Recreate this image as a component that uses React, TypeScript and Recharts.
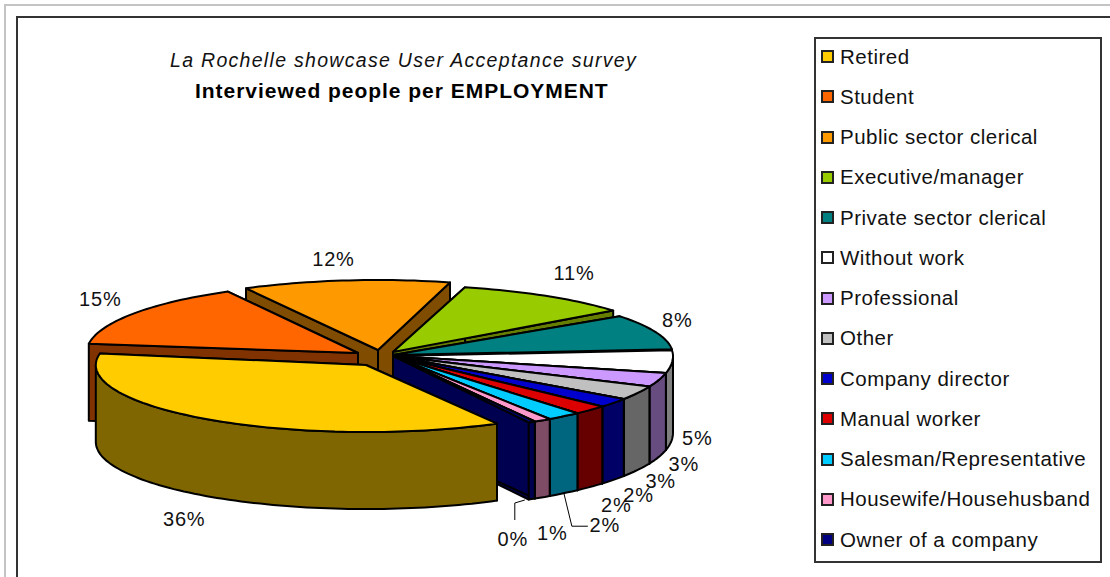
import React from "react";
import { PieChart, Pie, Legend } from "recharts";

// Survey results, in the order the slices run clockwise round the pie.
const categories = [
  "Retired",
  "Student",
  "Public sector clerical",
  "Executive/manager",
  "Private sector clerical",
  "Without work",
  "Professional",
  "Other",
  "Company director",
  "Manual worker",
  "Salesman/Representative",
  "Housewife/Househusband",
  "Owner of a company",
];
const shares = [36, 15, 12, 11, 8, 5, 3, 3, 2, 2, 2, 1, 0.4];

const topColors = [
  "#FFCC00", "#FF6600", "#FF9900", "#99CC00", "#008080", "#FFFFFF", "#CC99FF",
  "#C0C0C0", "#0000CC", "#DD0000", "#00CCFF", "#FF99CC", "#000080",
];
const wallColors = [
  "#7F6600", "#803300", "#7F4C00", "#667F00", "#006666", "#7F7F7F", "#664C7F",
  "#666666", "#000066", "#660000", "#00667F", "#7F4C66", "#000050",
];

// Far slices are painted first so the nearer ones overlap them.
const paintOrder = [2, 3, 4, 5, 6, 7, 8, 9, 10, 11, 12, 1, 0];

type SliceForm = {
  dx: number;
  dy: number;
  wide?: number;
  near?: number;
  far?: number;
  from?: number;
  to?: number;
};

// Per-slice displacement from the pie centre, plus the small perspective
// corrections to ellipse size and edge angle (degrees).
const explode: Record<number, SliceForm> = {
  0: { dx: -27, dy: 9, wide: 0.965, near: 67 },
  1: { dx: -35, dy: -3, wide: 0.97, far: 70, from: -2.5, to: -2.5 },
  2: { dx: -15, dy: -6, far: 70, from: -2, to: -2 },
  3: { dx: 0, dy: -4, far: 67, from: -2, to: -4.5 },
  4: { dx: 0, dy: -1, from: -2.3 },
};

// Label displacement from the slice's rim midpoint.
const labelShift = [
  [-46, 101], [-69, -17], [-37, -31], [14, -30], [20, -14], [25, 77], [25, 84],
  [23, 88], [25, 92], [26, 95], [41, 109], [10, 113], [-19, 117],
];
// Leader lines, relative to the rim midpoint.
const leaders: Record<number, number[][]> = {
  10: [[0, 77], [8, 110], [24, 110]],
  12: [[-7, 78], [-17, 81], [-17, 98]],
};

const CX = 393;
const CY = 356;
const RADIUS = 280;
const FAR_RY = 66;
const NEAR_RY = 76;
const DEPTH = 77;
const RAD = Math.PI / 180;

const FONT = "'Liberation Sans', Arial, sans-serif";

function project(t: number, cx: number, cy: number, r: number, index: number) {
  const g: SliceForm = explode[index] ?? { dx: 0, dy: 0 };
  const s = Math.sin(t * RAD);
  const ry = s >= 0 ? g.near ?? NEAR_RY : g.far ?? FAR_RY;
  return {
    x: cx + g.dx + r * (g.wide ?? 1) * Math.cos(t * RAD),
    y: cy + g.dy + ry * s,
  };
}

function arcPoints(a: number, b: number, cx: number, cy: number, r: number, index: number) {
  const pts = [];
  const n = Math.max(2, Math.ceil(Math.abs(b - a) / 1.5));
  for (let i = 0; i <= n; i++) pts.push(project(a + ((b - a) * i) / n, cx, cy, r, index));
  return pts;
}

const toPath = (pts: { x: number; y: number }[]) =>
  pts.map((p, i) => `${i ? "L" : "M"}${p.x.toFixed(1)} ${p.y.toFixed(1)}`).join(" ") + " Z";

// Draws one slice as a raised wedge: the two cut faces, the visible rim, then the top.
function Wedge(props: any) {
  const { cx, cy, outerRadius, startAngle, endAngle, index } = props;
  const g: SliceForm = explode[index] ?? { dx: 0, dy: 0 };
  const t0 = -startAngle + (g.from ?? 0);
  const t1 = -endAngle + (g.to ?? 0);
  const apex = { x: cx + g.dx, y: cy + g.dy };
  const down = (p: { x: number; y: number }) => ({ x: p.x, y: p.y + DEPTH });
  const face = (t: number) => {
    const p = project(t, cx, cy, outerRadius, index);
    return toPath([apex, p, down(p), down(apex)]);
  };
  const rims: string[] = [];
  [[0, 180], [360, 540]].forEach(([lo, hi]) => {
    const a = Math.max(t0, lo);
    const b = Math.min(t1, hi);
    if (b > a) {
      const top = arcPoints(a, b, cx, cy, outerRadius, index);
      rims.push(toPath([...top, ...top.slice().reverse().map(down)]));
    }
  });
  const common = { stroke: "#000", strokeWidth: 2, strokeLinejoin: "round" as const };
  return (
    <g>
      <path d={face(t1)} fill={wallColors[index]} {...common} />
      <path d={face(t0)} fill={wallColors[index]} {...common} />
      {rims.map((d, i) => (
        <path key={i} d={d} fill={wallColors[index]} {...common} />
      ))}
      <path
        d={toPath([apex, ...arcPoints(t0, t1, cx, cy, outerRadius, index)])}
        fill={topColors[index]}
        {...common}
      />
    </g>
  );
}

const chartData = categories.map((name, i) => ({ name, share: shares[i], slot: i }));

function SliceLabel(props: any) {
  const { cx, cy, outerRadius, midAngle, index } = props;
  const p = project(-midAngle, cx, cy, outerRadius, -1);
  const [sx, sy] = labelShift[index];
  const line = leaders[index];
  return (
    <g>
      {line && (
        <polyline
          points={line.map(([a, b]) => `${p.x + a},${p.y + b}`).join(" ")}
          fill="none"
          stroke="#000"
          strokeWidth={1}
        />
      )}
      <text
        x={p.x + sx}
        y={p.y + sy}
        textAnchor="middle"
        dominantBaseline="central"
        fontFamily={FONT}
        fontSize={20}
        letterSpacing={0.8}
        fill="#111"
      >
        {Math.round(shares[index])}%
      </text>
    </g>
  );
}

function LegendBox() {
  return (
    <div
      style={{
        position: "relative",
        width: 288,
        height: 526,
        boxSizing: "border-box",
        border: "2px solid #333",
        background: "#fff",
        fontFamily: FONT,
      }}
    >
      {categories.map((name, i) => (
        <div
          key={name}
          style={{
            position: "absolute",
            left: 5,
            top: 17.7 + i * 40.25 - 12,
            height: 24,
            display: "flex",
            alignItems: "center",
            whiteSpace: "nowrap",
            fontSize: 20.5,
            letterSpacing: 0.5,
            color: "#111",
          }}
        >
          <span
            style={{
              width: 13,
              height: 13,
              boxSizing: "border-box",
              border: "2px solid #222",
              background: topColors[i],
              marginRight: 6,
              flex: "none",
            }}
          />
          {name}
        </div>
      ))}
    </div>
  );
}

export default function App() {
  return (
    <div style={{ position: "absolute", left: 0, top: 0, width: 1110, height: 577, overflow: "hidden", background: "#fff" }}>
      <div style={{ position: "absolute", left: 4, top: 4, width: 1200, height: 700, border: "2px solid #c4c4c4" }} />
      <div style={{ position: "absolute", left: 16, top: 16, width: 1200, height: 700, border: "2px solid #333" }} />
      <div
        style={{
          position: "absolute",
          left: 170,
          top: 48,
          whiteSpace: "nowrap",
          fontFamily: FONT,
          fontStyle: "italic",
          fontSize: 19.5,
          letterSpacing: 1.3,
          lineHeight: "24px",
          color: "#111",
        }}
      >
        La Rochelle showcase User Acceptance survey
      </div>
      <div
        style={{
          position: "absolute",
          left: 195,
          top: 79,
          whiteSpace: "nowrap",
          fontFamily: FONT,
          fontWeight: 700,
          fontSize: 21,
          letterSpacing: 0.97,
          lineHeight: "24px",
          color: "#000",
        }}
      >
        Interviewed people per EMPLOYMENT
      </div>
      <PieChart
        width={1110}
        height={577}
        margin={{ top: 0, right: 0, bottom: 0, left: 0 }}
        style={{ position: "absolute", left: 0, top: 0 }}
      >
        {paintOrder.map((slot) => (
          <Pie
            key={slot}
            data={chartData}
            dataKey="share"
            nameKey="name"
            cx={CX}
            cy={CY}
            outerRadius={RADIUS}
            startAngle={-61}
            endAngle={-421}
            stroke="none"
            legendType="none"
            isAnimationActive={false}
            shape={(p: any) => {
              const index = p.payload?.slot ?? p.slot;
              return index === slot ? <Wedge {...p} index={index} /> : <g />;
            }}
          />
        ))}
        <Pie
          data={chartData}
          dataKey="share"
          nameKey="name"
          cx={CX}
          cy={CY}
          outerRadius={RADIUS}
          startAngle={-61}
          endAngle={-421}
          legendType="none"
          isAnimationActive={false}
          shape={() => <g />}
          labelLine={false}
          label={SliceLabel}
        />
        <Legend
          content={() => <LegendBox />}
          wrapperStyle={{ position: "absolute", left: 814, top: 37, width: 288, height: 526 }}
        />
      </PieChart>
    </div>
  );
}
